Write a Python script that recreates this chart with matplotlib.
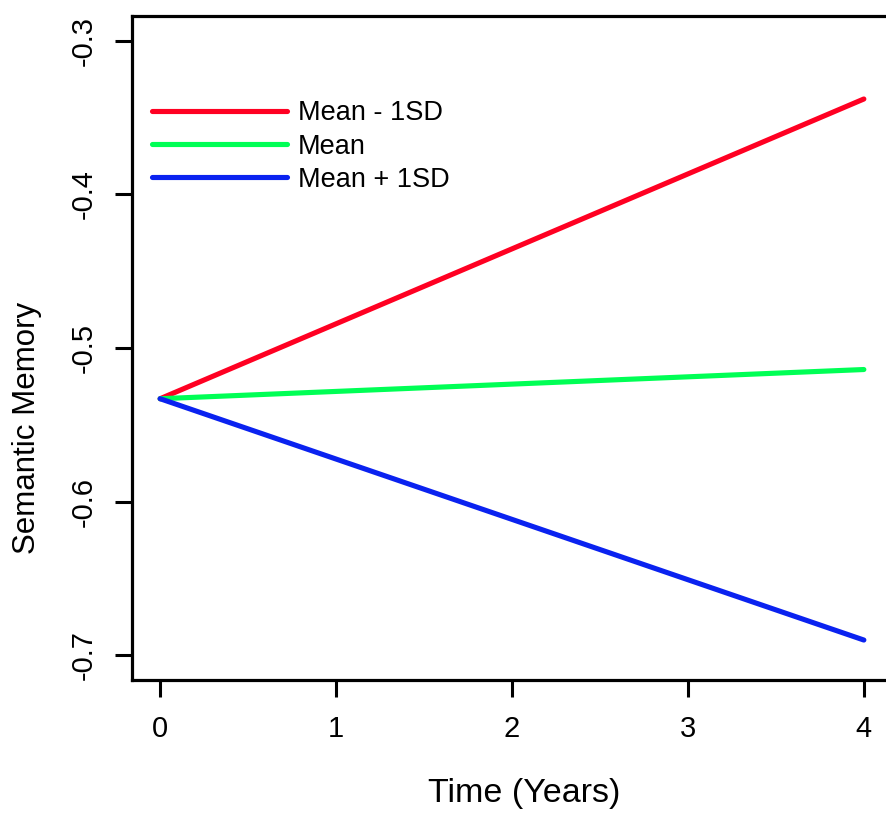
import matplotlib.pyplot as plt

# data
time_years = [0, 4]
mean_minus_1sd = [-0.533, -0.338]
mean_only = [-0.533, -0.514]
mean_plus_1sd = [-0.533, -0.690]
series_labels = ["Mean - 1SD", "Mean", "Mean + 1SD"]
series_colors = ["#ff0022", "#00ff55", "#0a22f0"]
x_ticks = [0, 1, 2, 3, 4]
y_ticks = [-0.7, -0.6, -0.5, -0.4, -0.3]
y_tick_labels = ["-0.7", "-0.6", "-0.5", "-0.4", "-0.3"]

plt.rcParams["font.family"] = ["Liberation Sans", "DejaVu Sans"]

W, H = 886, 813
fig = plt.figure(figsize=(W / 100, H / 100), dpi=100)
# plot box: left 132px, bottom 680px, top 16px, right side runs past the image edge
ax = fig.add_axes([132 / W, 133 / H, 760 / W, 664 / H])

for values, label, color in zip([mean_minus_1sd, mean_only, mean_plus_1sd], series_labels, series_colors):
    ax.plot(time_years, values, color=color, lw=3.7, label=label, solid_capstyle="round")

ax.set_xlim(-0.16, 4.16)
ax.set_ylim(-0.716, -0.284)
ax.set_xticks(x_ticks)
ax.set_xticklabels([str(t) for t in x_ticks])
ax.set_yticks(y_ticks)
ax.set_yticklabels(y_tick_labels, rotation=90, va="center")

for side in ["left", "bottom", "top", "right"]:
    ax.spines[side].set_linewidth(2.3)
ax.tick_params(axis="both", direction="out", length=12, width=2.2, labelsize=21)
ax.tick_params(axis="x", pad=13)
ax.tick_params(axis="y", pad=13)

leg = ax.legend(loc="upper left", bbox_to_anchor=(0.026, 0.873), frameon=False,
                fontsize=19.5, handlelength=5.0, handletextpad=0.4,
                labelspacing=0.27, borderpad=0, borderaxespad=0)
for line in leg.get_lines():
    line.set_linewidth(3.7)

fig.text(524 / W, 1 - 802 / H, "Time (Years)", ha="center", va="baseline", fontsize=24.5)
fig.text(27 / W, 1 - 428 / H, "Semantic Memory", ha="center", va="center", rotation=90, fontsize=22.5)

fig.savefig("out.png", dpi=100)
